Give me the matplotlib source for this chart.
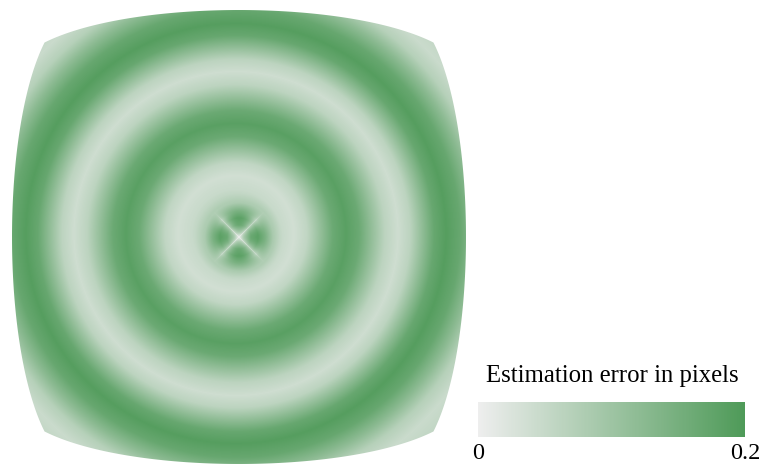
import numpy as np
import matplotlib
matplotlib.use("Agg")
import matplotlib.pyplot as plt
from matplotlib.colors import LinearSegmentedColormap
from matplotlib.path import Path
from matplotlib.patches import PathPatch

# ---- data ----
# radial error profile (radius in pixels from ring centre, error in pixels)
profile_r = [0, 5, 12, 19, 26, 34, 44, 58, 71, 84, 97, 110, 123, 136, 149, 162,
             174, 186, 198, 210, 224, 238, 251, 265, 285, 300]
profile_v = [0.0, 0.09, 0.165, 0.182, 0.145, 0.085, 0.048, 0.036, 0.057, 0.11, 0.163, 0.185,
             0.163, 0.112, 0.062, 0.04, 0.062, 0.115, 0.168, 0.19, 0.168, 0.12, 0.07,
             0.045, 0.06, 0.07]
vmin, vmax = 0.0, 0.2
cbar_ticks = [0, 0.2]
cbar_ticklabels = ["0", "0.2"]
cbar_title = "Estimation error in pixels"
color_low, color_high = "#eeeeee", "#4e9a58"

# ---- figure ----
W, H = 759, 466
fig = plt.figure(figsize=(W / 100, H / 100), dpi=100)
ax = fig.add_axes([0, 0, 1, 1])
ax.set_xlim(0, W)
ax.set_ylim(H, 0)
ax.axis("off")

cmap = LinearSegmentedColormap.from_list("err", [color_low, color_high])

# geometry of the distorted (barrel) square
cx, cy = 239.0, 237.0          # cross centre
rcx, rcy = 236.0, 233.5        # ring centre
scale, k = 259.5, 0.1253

xs = np.arange(0, 480) + 0.5
ys = np.arange(0, H) + 0.5
X, Y = np.meshgrid(xs, ys)
r1 = np.hypot(X - cx, Y - cy)
th = np.arctan2(Y - cy, X - cx)
r2 = np.hypot(X - rcx, Y - rcy)

ang = 0.3 + 0.7 * np.abs(np.cos(2 * th)) ** 0.6
wa = np.clip((36 - r1) / 12.0, 0, 1)
inner = np.interp(r1, profile_r, profile_v) * (wa * ang + (1 - wa))
outer = np.interp(r2, profile_r, profile_v)
w = np.clip((55 - r1) / 20.0, 0, 1)
field = w * inner + (1 - w) * outer

im = ax.imshow(field, cmap=cmap, vmin=vmin, vmax=vmax, extent=(0, 480, H, 0),
               interpolation="bilinear", origin="upper")

# boundary: unit square mapped through barrel distortion
t = np.linspace(-1, 1, 200)
pts = np.concatenate([
    np.column_stack([t, -np.ones_like(t)]),
    np.column_stack([np.ones_like(t), t]),
    np.column_stack([t[::-1], np.ones_like(t)]),
    np.column_stack([-np.ones_like(t), t[::-1]]),
])
rr2 = (pts ** 2).sum(axis=1)
fac = scale * (1 - k * rr2)
bx = cx + pts[:, 0] * fac
by = cy + pts[:, 1] * fac
clip = PathPatch(Path(np.column_stack([bx, by]), closed=True), transform=ax.transData,
                 facecolor="none", edgecolor="none")
ax.add_patch(clip)
im.set_clip_path(clip)

# ---- colour bar ----
cax = fig.add_axes([478 / W, (H - 437) / H, 267 / W, 35 / H])
cb = fig.colorbar(im, cax=cax, orientation="horizontal", ticks=cbar_ticks)
cb.outline.set_visible(False)
cb.ax.tick_params(length=0, pad=4)
cb.ax.set_xticklabels(cbar_ticklabels, fontfamily="Liberation Serif", fontsize=17.5)
fig.text(612.5 / W, (H - 382) / H, cbar_title, ha="center", va="baseline",
         fontfamily="Liberation Serif", fontsize=17.8)

fig.savefig("out.png", dpi=100)
